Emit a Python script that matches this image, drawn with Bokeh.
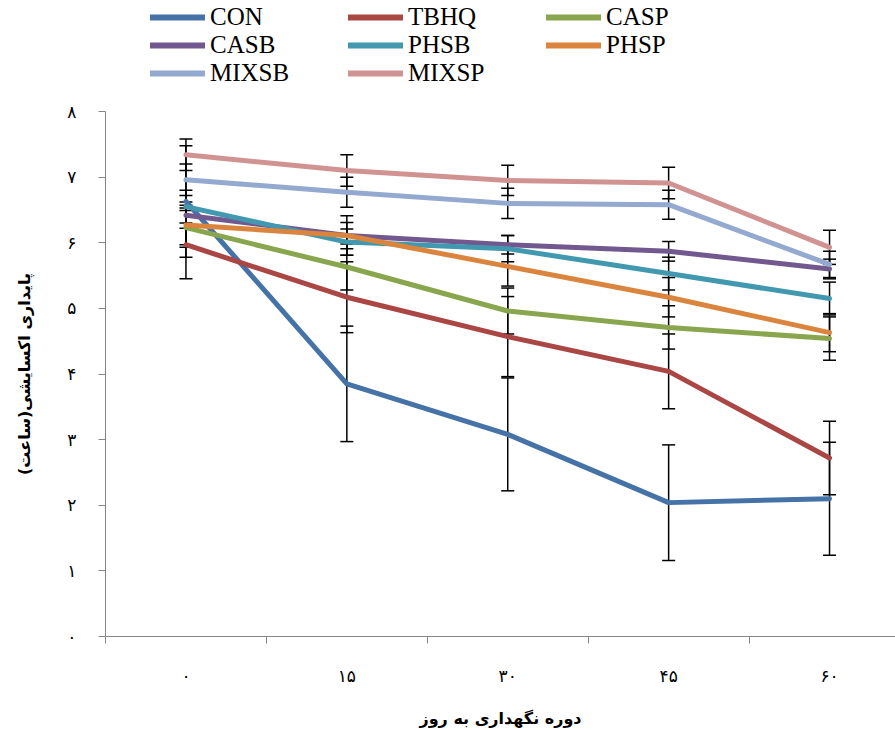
from bokeh.plotting import figure
from bokeh.layouts import column
from bokeh.models import (ColumnDataSource, Whisker, TeeHead, Legend, LegendItem,
                          FixedTicker, Range1d)
from bokeh.embed import file_html
from bokeh.resources import INLINE

# ---- data ----
day_labels = ["۰", "۱۵", "۳۰", "۴۵", "۶۰"]
y_tick_values = [0, 1, 2, 3, 4, 5, 6, 7, 8]
y_tick_labels = ["۰", "۱", "۲", "۳", "۴", "۵", "۶", "۷", "۸"]

series_names = ["CON", "TBHQ", "CASP", "CASB", "PHSB", "PHSP", "MIXSB", "MIXSP"]
colors = ["#4572A7", "#AA4643", "#89A54E", "#71588F", "#4198AF", "#DB843D", "#93A9CF", "#D19392"]

con = [6.63, 3.85, 3.08, 2.04, 2.10]
tbhq = [5.97, 5.17, 4.57, 4.04, 2.72]
casp = [6.23, 5.63, 4.96, 4.71, 4.54]
casb = [6.42, 6.11, 5.97, 5.87, 5.60]
phsb = [6.55, 6.01, 5.91, 5.53, 5.15]
phsp = [6.27, 6.11, 5.64, 5.17, 4.63]
mixsb = [6.96, 6.77, 6.60, 6.58, 5.67]
mixsp = [7.34, 7.10, 6.95, 6.91, 5.93]

con_err = [0.85, 0.88, 0.86, 0.88, 0.86]
tbhq_err = [0.52, 0.54, 0.61, 0.57, 0.56]
casp_err = [0.30, 0.35, 0.35, 0.33, 0.33]
casb_err = [0.20, 0.30, 0.14, 0.15, 0.15]
phsb_err = [0.25, 0.20, 0.20, 0.25, 0.25]
phsp_err = [0.30, 0.20, 0.30, 0.30, 0.29]
mixsb_err = [0.24, 0.23, 0.23, 0.22, 0.20]
mixsp_err = [0.24, 0.24, 0.23, 0.24, 0.26]

values = [con, tbhq, casp, casb, phsb, phsp, mixsb, mixsp]
errors = [con_err, tbhq_err, casp_err, casb_err, phsb_err, phsp_err, mixsb_err, mixsp_err]

xs = list(range(len(day_labels)))

# ---- main chart ----
p = figure(width=895, height=629, output_backend="svg", toolbar_location=None,
           x_range=Range1d(-0.5, 4.41), y_range=Range1d(0, 8),
           min_border_left=105, min_border_right=0, min_border_top=10, min_border_bottom=93)
p.outline_line_color = None
p.xgrid.visible = False
p.ygrid.visible = False

for vals, errs in zip(values, errors):
    src = ColumnDataSource(dict(x=xs,
                                upper=[v + e for v, e in zip(vals, errs)],
                                lower=[v - e for v, e in zip(vals, errs)]))
    w = Whisker(base="x", upper="upper", lower="lower", source=src, dimension="height",
                line_color="black", line_width=1.5,
                upper_head=TeeHead(size=13, line_color="black", line_width=1.5),
                lower_head=TeeHead(size=13, line_color="black", line_width=1.5))
    p.add_layout(w)

for name, vals, c in zip(series_names, values, colors):
    p.line(xs, vals, line_width=5, line_color=c, line_join="round", line_cap="round")

ax = p.xaxis[0]
ax.ticker = FixedTicker(ticks=xs, minor_ticks=[x - 0.5 for x in xs] + [xs[-1] + 0.5])
ax.major_label_overrides = {x: lbl for x, lbl in zip(xs, day_labels)}
ax.major_tick_out = 0
ax.major_tick_in = 0
ax.minor_tick_out = 7
ax.minor_tick_in = 0
ax.axis_line_color = "#868686"
ax.minor_tick_line_color = "#868686"
ax.major_label_text_font = "DejaVu Sans"
ax.major_label_text_font_size = "17px"
ax.major_label_text_color = "black"
ax.major_label_standoff = 22
ax.axis_label = "دوره نگهداری به روز"
ax.axis_label_text_font = "DejaVu Sans"
ax.axis_label_text_font_style = "bold"
ax.axis_label_text_font_size = "16px"
ax.axis_label_text_color = "black"
ax.axis_label_standoff = 20

ay = p.yaxis[0]
ay.ticker = FixedTicker(ticks=y_tick_values)
ay.major_label_overrides = {v: lbl for v, lbl in zip(y_tick_values, y_tick_labels)}
ay.major_tick_out = 7
ay.major_tick_in = 0
ay.minor_tick_line_color = None
ay.axis_line_color = "#868686"
ay.major_tick_line_color = "#868686"
ay.major_label_text_font = "DejaVu Sans"
ay.major_label_text_font_size = "17px"
ay.major_label_text_color = "black"
ay.major_label_standoff = 22
ay.axis_label = "پایداری اکسایشی(ساعت)\u200f"
ay.axis_label_text_font = "DejaVu Sans"
ay.axis_label_text_font_style = "bold"
ay.axis_label_text_font_size = "16px"
ay.axis_label_text_color = "black"
ay.axis_label_standoff = 30

# ---- legend strip ----
lg = figure(width=895, height=101, output_backend="svg", toolbar_location=None,
            x_range=Range1d(0, 1), y_range=Range1d(0, 1),
            min_border_left=0, min_border_right=0, min_border_top=0, min_border_bottom=0)
lg.outline_line_color = None
lg.axis.visible = False
lg.grid.visible = False
nan = float("nan")
leg_renderers = [lg.line([nan], [nan], line_width=6, line_color=c, line_cap="round") for c in colors]
legend = Legend(items=[LegendItem(label=n, renderers=[r], index=0) for n, r in zip(series_names, leg_renderers)],
                orientation="horizontal", ncols=3,
                label_text_font="Liberation Serif", label_text_font_size="25px",
                label_text_color="black",
                glyph_width=55, glyph_height=20, label_standoff=5, label_width=138,
                spacing=-5, padding=0, margin=0,
                border_line_color=None, background_fill_alpha=0,
                location=(45, 14))
lg.add_layout(legend, "center")

layout = column(lg, p, spacing=0)
open("out.html", "w").write(file_html(layout, INLINE))
